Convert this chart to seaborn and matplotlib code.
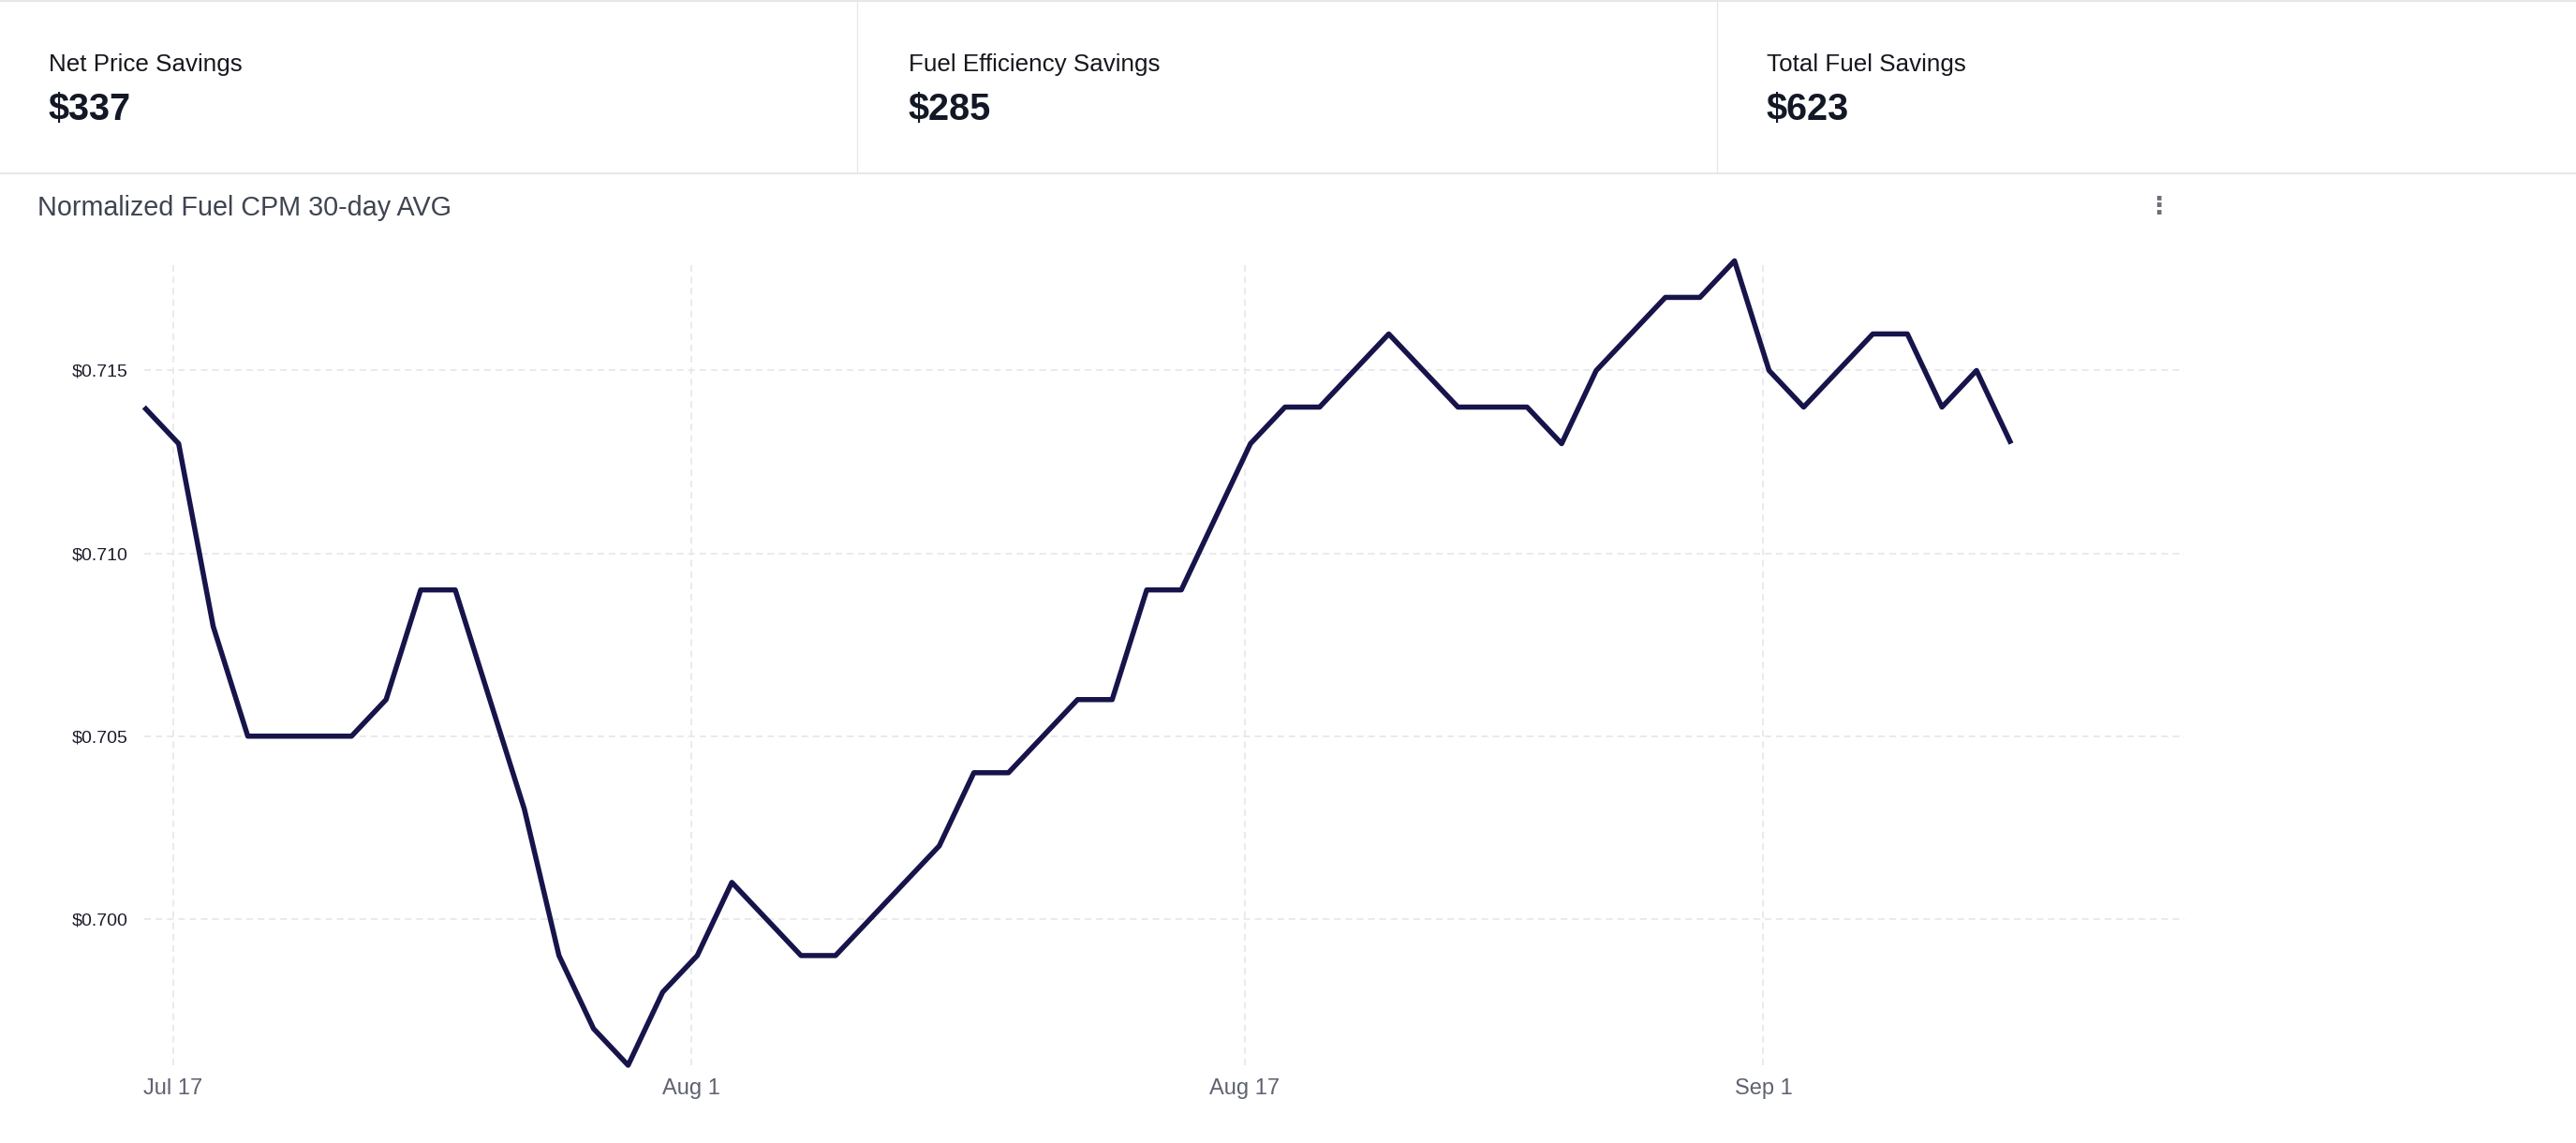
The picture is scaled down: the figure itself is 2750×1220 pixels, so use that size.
import matplotlib
matplotlib.use("Agg")
import matplotlib.pyplot as plt
from matplotlib.lines import Line2D
import seaborn as sns
import pandas as pd

# ---------------- data ----------------
kpi_labels = ["Net Price Savings", "Fuel Efficiency Savings", "Total Fuel Savings"]
kpi_values = ["$337", "$285", "$623"]
chart_title = "Normalized Fuel CPM 30-day AVG"

first_day = "2024-07-16 04:00"
cpm_values = [
    # Jul 16 - Jul 31
    0.714, 0.713, 0.708, 0.705, 0.705, 0.705, 0.705, 0.706,
    0.709, 0.709, 0.706, 0.703, 0.699, 0.697, 0.696, 0.698,
    # Aug 1 - Aug 31
    0.699, 0.701, 0.700, 0.699, 0.699, 0.700, 0.701, 0.702,
    0.704, 0.704, 0.705, 0.706, 0.706, 0.709, 0.709, 0.711,
    0.713, 0.714, 0.714, 0.715, 0.716, 0.715, 0.714, 0.714,
    0.714, 0.713, 0.715, 0.716, 0.717, 0.717, 0.718,
    # Sep 1 - Sep 8
    0.715, 0.714, 0.715, 0.716, 0.716, 0.714, 0.715, 0.713,
]
dates = pd.date_range(first_day, periods=len(cpm_values), freq="D")

x_range = ["2024-07-16 04:00", "2024-09-13 04:00"]
y_range = [0.696, 0.718]
x_tick_dates = ["2024-07-17", "2024-08-01", "2024-08-17", "2024-09-01"]
x_tick_labels = ["Jul 17", "Aug 1", "Aug 17", "Sep 1"]
y_ticks = [0.700, 0.705, 0.710, 0.715]
y_tick_labels = ["$0.700", "$0.705", "$0.710", "$0.715"]

# ---------------- style ----------------
sns.set_theme(style="white")
plt.rcParams["font.family"] = ["Liberation Sans", "DejaVu Sans"]

W, H, DPI = 2750, 1220, 100
fig = plt.figure(figsize=(W / DPI, H / DPI), dpi=DPI)
fig.patch.set_facecolor("white")


def fx(px):
    return px / W


def fy(py):
    return 1 - py / H


# ---------------- header cards ----------------
border = "#e6e7ea"
fig.add_artist(Line2D([0, 1], [fy(1), fy(1)], color=border, lw=1.5, transform=fig.transFigure))
fig.add_artist(Line2D([0, 1], [fy(185), fy(185)], color=border, lw=1.5, transform=fig.transFigure))
for sx in (915, 1833):
    fig.add_artist(Line2D([fx(sx), fx(sx)], [fy(2), fy(184)], color=border, lw=0.9,
                          transform=fig.transFigure))

card_x = [52, 970, 1886]
for x0, lab, val in zip(card_x, kpi_labels, kpi_values):
    fig.text(fx(x0), fy(76), lab, fontsize=18.7, color="#16161d", ha="left", va="baseline")
    fig.text(fx(x0), fy(128), val, fontsize=28.5, fontweight="bold", color="#121826",
             ha="left", va="baseline")

fig.text(fx(40), fy(230), chart_title, fontsize=20.7, color="#3f4451", ha="left", va="baseline")
fig.text(fx(2304), fy(221), "\u22ee", fontsize=19, color="#6b6f78", ha="center", va="center",
         family=["DejaVu Sans"], fontweight="bold")

# ---------------- chart ----------------
ax_l, ax_r, ax_t, ax_b = 153.8, 2331.5, 278.4, 1137.0
ax = fig.add_axes([fx(ax_l), fy(ax_b), fx(ax_r) - fx(ax_l), fy(ax_t) - fy(ax_b)])
ax.set_facecolor("white")

df = pd.DataFrame({"date": dates, "cpm": cpm_values})
sns.lineplot(data=df, x="date", y="cpm", ax=ax, color="#16144a", linewidth=3.95,
             clip_on=False, solid_joinstyle="round", solid_capstyle="butt", zorder=3)

ax.set_xlim(pd.Timestamp(x_range[0]), pd.Timestamp(x_range[1]))
ax.set_ylim(*y_range)
ax.set_xticks(pd.to_datetime(x_tick_dates))
ax.set_xticklabels(x_tick_labels)
ax.set_yticks(y_ticks)
ax.set_yticklabels(y_tick_labels)

ax.grid(True, color="#e7e8eb", linestyle=(0, (3.9, 2.8)), linewidth=1.3)
ax.set_axisbelow(True)
for s in ax.spines.values():
    s.set_visible(False)
ax.set_xlabel("")
ax.set_ylabel("")
ax.tick_params(axis="x", length=0, pad=10, labelsize=17, colors="#5f6270")
ax.tick_params(axis="y", length=0, pad=12.5, labelsize=14, colors="#1d1d2b")

fig.savefig("out.png", dpi=DPI, facecolor="white")
